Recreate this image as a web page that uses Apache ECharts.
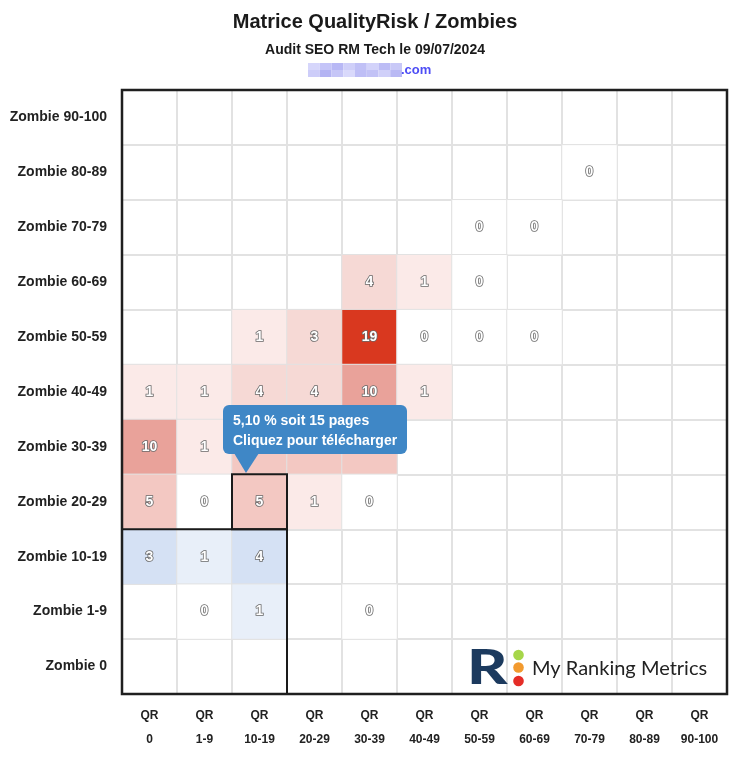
<!DOCTYPE html>
<html><head><meta charset="utf-8">
<script src="https://cdn.jsdelivr.net/npm/echarts@6/dist/echarts.min.js"></script>
<style>html,body{margin:0;padding:0;background:#fff}#main{width:750px;height:757px}</style>
</head><body><div id="main"></div>
<script>
// Categories
const qrCategories = ['0','1-9','10-19','20-29','30-39','40-49','50-59','60-69','70-79','80-89','90-100'];
const zombieCategories = ['0','1-9','10-19','20-29','30-39','40-49','50-59','60-69','70-79','80-89','90-100'];
// Risk cells: [qrIndex, zombieIndex, percent]
const riskCells = [
  [8,9,0],
  [6,8,0],[7,8,0],
  [4,7,4],[5,7,1],[6,7,0],
  [2,6,1],[3,6,3],[4,6,19],[5,6,0],[6,6,0],[7,6,0],
  [0,5,1],[1,5,1],[2,5,4],[3,5,4],[4,5,10],[5,5,1],
  [0,4,10],[1,4,1],[2,4,5],[3,4,5],[4,4,5],
  [0,3,5],[1,3,0],[2,3,5],[3,3,1],[4,3,0],
  [4,1,0]
];
// Safe zone cells: [qrIndex, zombieIndex, percent]
const safeCells = [[0,2,3],[1,2,1],[2,2,4],[1,1,0],[2,1,1]];
// Safe zone bounds [qrStart, zombieStart, qrEnd, zombieEnd]
const safeZone = [0,0,2,2];
// Hovered cell and its tooltip values
const hoveredCell = [2,3];
const hoveredPercent = '5,10';
const hoveredPages = 15;

const FONT = 'Liberation Sans';
const chart = echarts.init(document.getElementById('main'), null, {renderer:'canvas'});

const labelStyle = {
  show: true,
  formatter: p => String(p.value[2]),
  color: '#ffffff',
  fontFamily: FONT,
  fontWeight: 'bold',
  fontSize: 14,
  textBorderColor: '#6a6a6a',
  textBorderWidth: 1.6
};

function outlineItem(params, api) {
  const x0 = api.value(0), y0 = api.value(1), x1 = api.value(2), y1 = api.value(3);
  const tl = api.coord([x0, y1]);
  const sz = api.size([1, 1]);
  return {
    type: 'rect',
    shape: {
      x: tl[0] - sz[0] / 2,
      y: tl[1] - sz[1] / 2,
      width: (x1 - x0 + 1) * sz[0],
      height: (y1 - y0 + 1) * sz[1]
    },
    style: {fill: 'none', stroke: '#1a1a1a', lineWidth: 2}
  };
}
function frameItem(params) {
  const c = params.coordSys;
  return {type:'rect', shape:{x:c.x, y:c.y, width:c.width, height:c.height},
          style:{fill:'none', stroke:'#1f1f1f', lineWidth:2.5}};
}

const blurColors = ['#d6d6fb','#c4c4f8','#b8b8f5','#cfcff9','#c0c0f6','#d2d2fa','#bcbcf5','#c8c8f7',
                    '#cdcdf9','#b4b4f3','#c6c6f7','#d9d9fb','#bebef6','#c2c2f6','#d0d0f9','#b9b9f4'];
const blurRects = blurColors.map((col, i) => ({
  type:'rect', silent:true,
  shape:{x: 308 + (i % 8) * 11.75, y: 63 + Math.floor(i / 8) * 7, width: 11.75, height: 7},
  style:{fill: col}
}));

const option = {
  animation: false,
  backgroundColor: '#ffffff',
  title: [
    {text:'Matrice QualityRisk / Zombies', left:'center', top:12, padding:0,
     textStyle:{fontFamily:FONT, fontSize:20, fontWeight:'bold', color:'#1a1a1a'}},
    {text:'Audit SEO RM Tech le 09/07/2024', left:'center', top:43, padding:0,
     textStyle:{fontFamily:FONT, fontSize:14, fontWeight:'bold', color:'#1a1a1a'}}
  ],
  grid: {left:122, top:90, width:605, height:604},
  xAxis: {
    type:'category', data: qrCategories,
    axisLine:{show:false}, axisTick:{show:false},
    splitLine:{show:true, interval:0, lineStyle:{color:'#e2e2e2', width:2}},
    axisLabel:{interval:0, formatter: v => 'QR\n' + v, margin:10, lineHeight:24,
               fontFamily:FONT, fontWeight:'bold', fontSize:12, color:'#222'}
  },
  yAxis: {
    type:'category', data: zombieCategories,
    axisLine:{show:false}, axisTick:{show:false},
    splitLine:{show:true, interval:0, lineStyle:{color:'#e2e2e2', width:2}},
    axisLabel:{interval:0, formatter: v => 'Zombie ' + v, margin:15,
               fontFamily:FONT, fontWeight:'bold', fontSize:14, color:'#222'}
  },
  visualMap: [
    {type:'piecewise', show:false, seriesIndex:0, dimension:2,
     pieces:[
       {lte:0.5, color:'#ffffff'},
       {gt:0.5, lte:2, color:'#fbeae8'},
       {gt:2, lte:4.5, color:'#f6d9d5'},
       {gt:4.5, lte:7, color:'#f3c8c2'},
       {gt:7, lte:14, color:'#e9a29a'},
       {gt:14, color:'#d9381f'}
     ]},
    {type:'piecewise', show:false, seriesIndex:1, dimension:2,
     pieces:[
       {lte:0.5, color:'#ffffff'},
       {gt:0.5, lte:2, color:'#e8eff9'},
       {gt:2, color:'#d5e1f4'}
     ]}
  ],
  tooltip: {
    trigger:'item', triggerOn:'none', alwaysShowContent:true, transitionDuration:0,
    backgroundColor:'#3f87c6', borderWidth:0, padding:[5,10,4,10],
    textStyle:{color:'#ffffff', fontFamily:FONT, fontSize:14, fontWeight:'bold', lineHeight:20},
    extraCssText:'box-shadow:none;border-radius:6px;line-height:20px;',
    formatter: () => hoveredPercent + ' % soit ' + hoveredPages + ' pages<br/>Cliquez pour télécharger' +
      '<div style="position:absolute;left:11px;bottom:-19px;width:0;height:0;border-left:12px solid transparent;border-right:13px solid transparent;border-top:20px solid #3f87c6;"></div>',
    position: function () {
      const c = chart.convertToPixel({seriesIndex:0}, hoveredCell);
      return [c[0] - 37, c[1] - 97];
    }
  },
  graphic: [
    ...blurRects,
    {type:'text', silent:true, x:401, y:70,
     style:{text:'.com', font:'bold 13px "Liberation Sans"', fill:'#4d4df5', textVerticalAlign:'middle'}},
    {type:'text', silent:true, x:467, y:669, z:100, scaleX:1.3,
     style:{text:'R', font:'900 48px Lato', fill:'#1c3a5e', textVerticalAlign:'middle'}},
    {type:'circle', silent:true, z:100, shape:{cx:518.5, cy:655, r:5.3}, style:{fill:'#a6d64a'}},
    {type:'circle', silent:true, z:100, shape:{cx:518.5, cy:667.5, r:5.3}, style:{fill:'#f29a2e'}},
    {type:'circle', silent:true, z:100, shape:{cx:518.5, cy:681, r:5.3}, style:{fill:'#e52d27'}},
    {type:'text', silent:true, x:532, y:669, z:100,
     style:{text:'My Ranking Metrics', font:'20px Lato', fill:'#222222', textVerticalAlign:'middle'}}
  ],
  series: [
    {type:'heatmap', data: riskCells, label: labelStyle, emphasis:{disabled:true},
     itemStyle:{borderColor:'#e2e2e2', borderWidth:1}},
    {type:'heatmap', data: safeCells, label: labelStyle, emphasis:{disabled:true},
     itemStyle:{borderColor:'#e2e2e2', borderWidth:1}, tooltip:{show:false}},
    {type:'custom', silent:true, z:10, renderItem: outlineItem, tooltip:{show:false},
     encode:{x:[0,2], y:[1,3]},
     data:[safeZone, [hoveredCell[0], hoveredCell[1], hoveredCell[0], hoveredCell[1]]]},
    {type:'custom', silent:true, z:11, renderItem: frameItem, tooltip:{show:false},
     data:[[0,0]]}
  ]
};
chart.setOption(option);
const hoverIdx = riskCells.findIndex(c => c[0] === hoveredCell[0] && c[1] === hoveredCell[1]);
chart.dispatchAction({type:'showTip', seriesIndex:0, dataIndex:hoverIdx});
</script></body></html>
